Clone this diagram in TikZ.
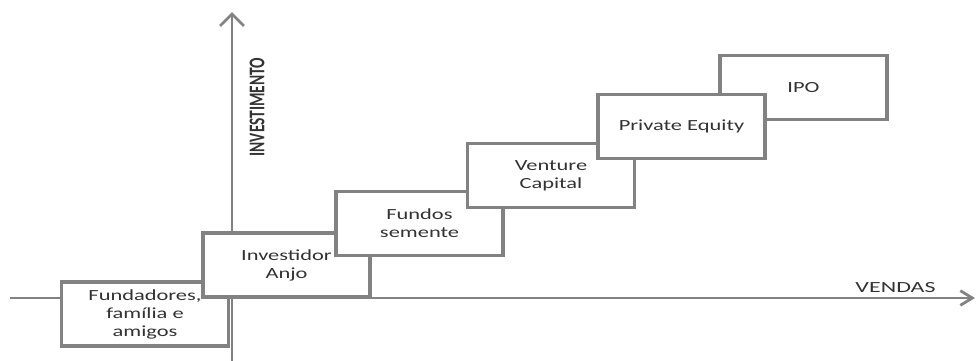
\documentclass[tikz,border=0pt]{standalone}
\usepackage{fontspec}
\setmainfont{Carlito}
\usetikzlibrary{arrows.meta}
\definecolor{edgegray}{HTML}{828282}
\definecolor{inkgray}{HTML}{333333}
% glyphs are set wide, as in the printed chart
\newcommand{\widetxt}[1]{\scalebox{1.45}[1]{#1}}
\begin{document}
\begin{tikzpicture}[x=0.75pt, y=-0.75pt,
  axisline/.style={draw=edgegray, line width=2.1pt},
  stagebox/.style={draw=edgegray, line width=2.3pt, fill=white,
    minimum width=125.25pt, minimum height=48pt, inner sep=0pt,
    align=center, text=inkgray, font=\fontsize{11.6}{13.5}\selectfont},
  axislabel/.style={inner sep=0pt, text=inkgray, font=\fontsize{11.6}{13.5}\selectfont}]
\useasboundingbox (0,0) rectangle (976,361);

% axes
\coordinate (ybot) at (232,361);
\coordinate (ytop) at (232,12);
\coordinate (xleft) at (10,298);
\coordinate (xright) at (975,298);
\draw[axisline, -{Straight Barb[length=9pt, width=18pt, line width=2.1pt]}] (ybot) -- (ytop);
\draw[axisline, -{Straight Barb[length=9pt, width=11pt, line width=2.1pt]}] (xleft) -- (xright);

\node[axislabel, rotate=90] (invest) at (257,107) {\scalebox{1}[1.45]{\bfseries INVESTIMENTO}};
\node[axislabel, anchor=base] (vendas) at (895.5,292) {\scalebox{1.55}[1]{VENDAS}};

% financing stages, each one resting on the previous
\node[stagebox] (ffa) at (145,314) {\widetxt{Fundadores,}\\\widetxt{família e}\\\widetxt{amigos}};
\node[stagebox] (anjo) at (286.5,265) {\widetxt{Investidor}\\\widetxt{Anjo}};
\node[stagebox] (seed) at (419.5,223.5) {\widetxt{Fundos}\\\widetxt{semente}};
\node[stagebox] (vc) at (551,175.5) {\widetxt{Venture}\\\widetxt{Capital}};
\node[stagebox] (ipo) at (803.5,87.5) {\widetxt{IPO}};
\node[stagebox] (pe) at (681.5,126.5) {\widetxt{Private Equity}};
\end{tikzpicture}
\end{document}
